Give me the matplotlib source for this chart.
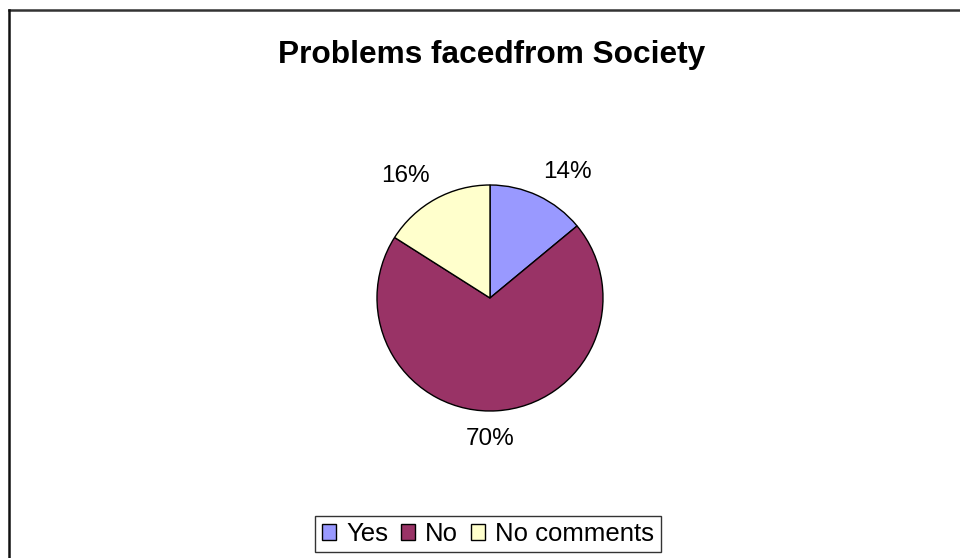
import numpy as np
import matplotlib.pyplot as plt
from matplotlib.lines import Line2D

plt.rcParams['font.family'] = ['Liberation Sans', 'DejaVu Sans']

title = 'Problems facedfrom Society'
categories = ['Yes', 'No', 'No comments']
shares = [14, 70, 16]
colors = ['#9999FF', '#993366', '#FFFFCC']

W, H = 960, 558
fig = plt.figure(figsize=(W / 100, H / 100), dpi=100)
fig.patch.set_facecolor('white')

# axes in pixel units, y up
ax = fig.add_axes([0, 0, 1, 1])
ax.axis('off')

cx, cy, r = 490, H - 298, 113
wedges, _ = ax.pie(shares, colors=colors, startangle=90, counterclock=False,
                   center=(cx, cy), radius=r,
                   wedgeprops=dict(edgecolor='black', linewidth=1.0))
ax.set_xlim(0, W)
ax.set_ylim(0, H)
ax.set_aspect('auto')

# percentage labels outside the slices
for w, v in zip(wedges, shares):
    mid = np.deg2rad((w.theta1 + w.theta2) / 2)
    dx, dy = np.cos(mid), np.sin(mid)
    if abs(dx) < 0.2:
        x, ha = cx, 'center'
    else:
        x, ha = cx + dx * r * 1.1, ('left' if dx > 0 else 'right')
    if dy > 0:
        y, va = cy + dy * r * 1.12, 'bottom'
    else:
        y, va = cy + dy * r * 1.15, 'top'
    ax.text(x, y, f'{v}%', ha=ha, va=va, fontsize=17.5)

fig.text(492 / W, 1 - 55 / H, title, ha='center', va='center',
         fontsize=22.8, fontweight='bold')

leg = fig.legend(wedges, categories, loc='center', bbox_to_anchor=(488 / W, 1 - 534 / H),
                 ncol=3, fontsize=18.5, frameon=True, fancybox=False,
                 handlelength=0.55, handleheight=0.55, handletextpad=0.4,
                 columnspacing=0.5, borderpad=0.25, borderaxespad=0)
leg.get_frame().set_edgecolor('black')
leg.get_frame().set_linewidth(1.0)

# chart area border (top and left only visible)
fig.add_artist(Line2D([9 / W, 1], [1 - 10 / H, 1 - 10 / H], color='#333333', linewidth=1.8))
fig.add_artist(Line2D([9 / W, 9 / W], [0, 1 - 10 / H], color='#111111', linewidth=1.8))

fig.savefig('out.png', dpi=100, facecolor='white')
